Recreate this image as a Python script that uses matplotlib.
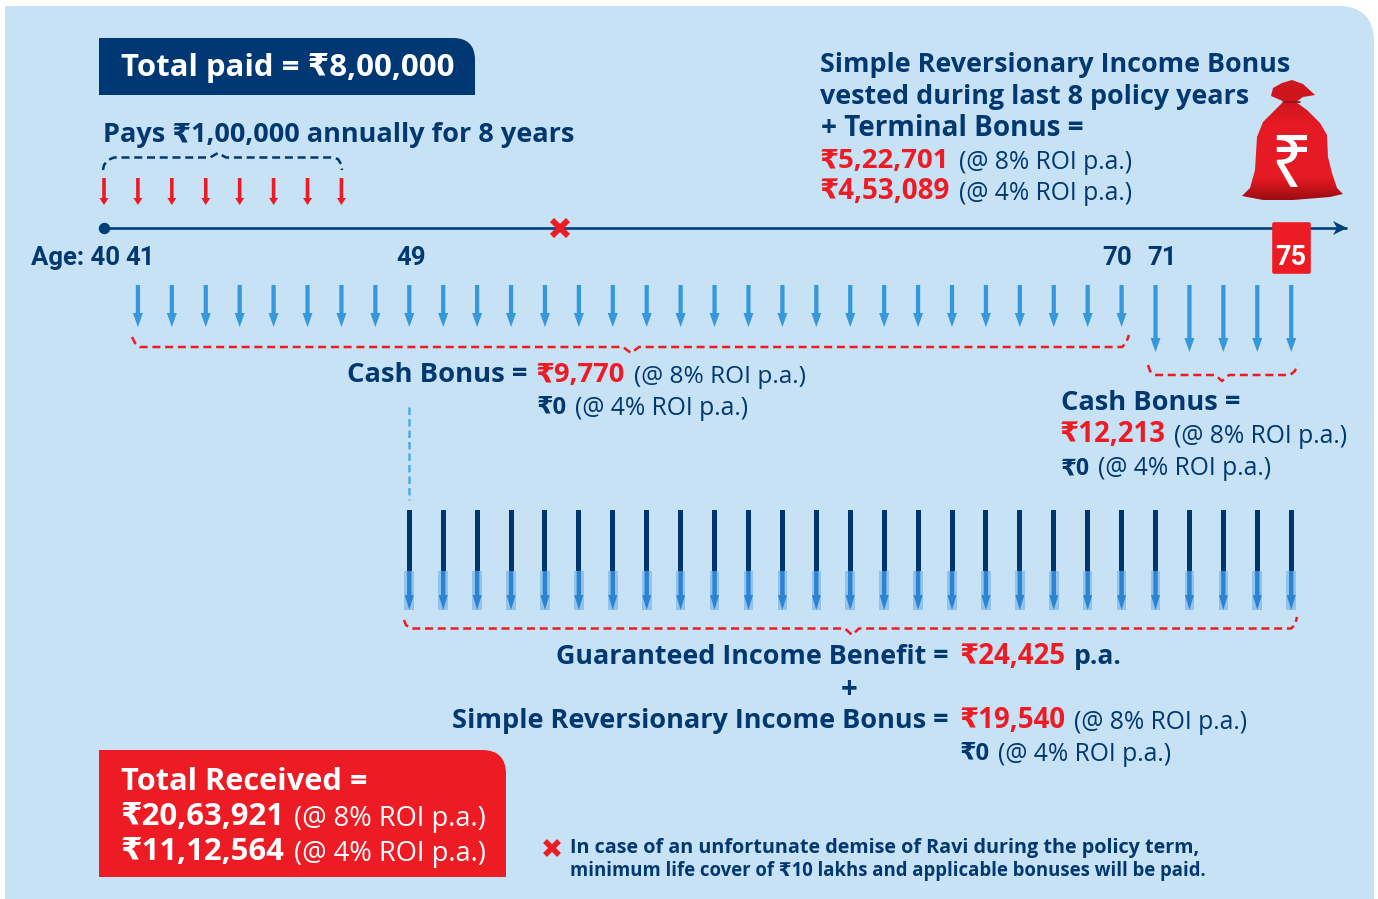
import matplotlib
matplotlib.use("Agg")
import matplotlib.pyplot as plt
import numpy as np
from matplotlib.patches import PathPatch
from matplotlib.path import Path

# ---------- data ----------
PREMIUM_AGES = [40, 41, 42, 43, 44, 45, 46, 47]
BONUS_AGES_A = [41, 42, 43, 44, 45, 46, 47, 48, 49, 50, 51, 52, 53, 54, 55,
                56, 57, 58, 59, 60, 61, 62, 63, 64, 65, 66, 67, 68, 69, 70]
BONUS_AGES_B = [71, 72, 73, 74, 75]
INCOME_AGES = [49, 50, 51, 52, 53, 54, 55, 56, 57, 58, 59, 60, 61, 62, 63, 64,
               65, 66, 67, 68, 69, 70, 71, 72, 73, 74, 75]
DEATH_AGE = 53.45
TIMELINE_START, TIMELINE_END = 40, 76.65
BADGE_AGE = 75

NAVY = "#00386F"
RED = "#ED1C24"
BLUE = "#3498DB"
BG = "#C7E1F5"
SANS = ["Open Sans", "DejaVu Sans"]
NARROW = ["Roboto", "Open Sans", "DejaVu Sans"]

W, H = 1378, 899
fig = plt.figure(figsize=(W / 100, H / 100), dpi=100, facecolor="white")
ax = fig.add_axes([0, 0, 1, 1])
ax.set_xlim(0, W)
ax.set_ylim(H, 0)
ax.axis("off")
# Age axis shares the picture: age 40 at px 104, one year = 33.92 px
PX_40, PX_YEAR = 104.0, 33.92
axa = fig.add_axes([0, 0, 1, 1])
axa.set_xlim(40 - PX_40 / PX_YEAR, 40 + (W - PX_40) / PX_YEAR)
axa.set_ylim(H, 0)
axa.axis("off")
axa.patch.set_alpha(0)
renderer = fig.canvas.get_renderer()


def round_box(x0, y0, x1, y1, r, color, a=ax, z=1):
    verts = [(x0, y0), (x1 - r, y0), (x1, y0), (x1, y0 + r), (x1, y1), (x0, y1), (x0, y0)]
    codes = [Path.MOVETO, Path.LINETO, Path.CURVE3, Path.CURVE3, Path.LINETO, Path.LINETO, Path.CLOSEPOLY]
    a.add_patch(PathPatch(Path(verts, codes), fc=color, ec="none", zorder=z))


def put(x0, x1, y, s, color=NAVY, weight="bold", family=SANS, a=ax, z=10):
    if weight == "bold":
        y = y - 0.8
    t = a.text(x0, y, s, color=color, fontweight=weight, family=family, fontsize=20,
               ha="left", va="baseline", zorder=z)
    w = t.get_window_extent(renderer).width
    t.set_fontsize(20 * (x1 - x0) / w)
    return t


def arrow(age, y0, y1, shaft, head_w, head_l, color, z=5):
    dx = shaft / 2 / PX_YEAR
    hx = head_w / 2 / PX_YEAR
    yn = y1 - head_l
    axa.fill([age - dx, age + dx, age + dx, age + hx, age, age - hx, age - dx],
             [y0, y0, yn, yn, y1, yn, yn], color=color, lw=0, zorder=z)


def dashed(xs, ys, color=RED, lw=1.8):
    ax.plot(xs, ys, color=color, lw=lw, linestyle=(0, (3.2, 1.9)),
            dash_capstyle="butt", zorder=3)


# ---------- background and boxes ----------
round_box(5, 6, 1374, 899, 36, BG, z=0)
round_box(99, 38, 475, 95, 22, "#003873")
round_box(99, 750, 506, 877, 24, RED)

# ---------- timeline ----------
axa.plot([TIMELINE_START, TIMELINE_END], [228, 228], color="#00407A", lw=1.9, zorder=4,
         solid_capstyle="butt")
axa.plot([TIMELINE_START], [228], "o", color="#00407A", ms=8.2, mew=0, zorder=5)
ax.fill([1333, 1347, 1333, 1337], [221, 228, 235, 228], color="#00407A", lw=0, zorder=5)
axa.plot([DEATH_AGE], [228], marker="x", color=RED, ms=11, mew=4.2, zorder=6)
ax.plot([552], [847.5], marker="x", color=RED, ms=10.5, mew=4.0, zorder=6)

# badge
hw = 17.5 / PX_YEAR
axa.fill([BADGE_AGE - hw, BADGE_AGE + hw, BADGE_AGE + hw, BADGE_AGE - hw],
         [223.5, 223.5, 272, 272], color=RED, lw=2.6, zorder=7, joinstyle="round")

# ---------- arrows ----------
for age in PREMIUM_AGES:
    arrow(age, 178, 205, 3.6, 9, 7, RED)
for age in BONUS_AGES_A:
    arrow(age, 285, 327, 4.2, 10, 14, BLUE)
for age in BONUS_AGES_B:
    arrow(age, 285, 352, 4.2, 10, 14, BLUE)
for age in INCOME_AGES:
    dx = 2.5 / PX_YEAR
    axa.fill([age - dx, age + dx, age + dx, age - dx], [510, 510, 572, 572],
             color="#00356F", lw=0, zorder=5)
    dx = 4.8 / PX_YEAR
    axa.fill([age - dx, age + dx, age + dx, age - dx], [571, 571, 610, 610],
             color="#93C2EC", lw=0, zorder=5)
    arrow(age, 571, 610, 4.4, 9, 15, "#2A84D2", z=6)

# ---------- brackets ----------
dashed([103, 104, 108, 114, 210, 218, 226, 331, 338, 341, 342],
       [170, 165, 160, 157.5, 157.5, 153, 157.5, 157.5, 159, 164, 170], color="#00386F")
dashed([132, 135, 140, 623, 631, 639, 1122, 1126, 1129],
       [337, 343, 347, 347, 353, 347, 347, 343, 335])
dashed([1148, 1150, 1155, 1215, 1222, 1229, 1290, 1295, 1297],
       [365, 371, 375, 375, 381, 375, 375, 371, 364])
dashed([404, 406, 411, 845, 852, 859, 1291, 1295, 1297],
       [620, 625, 628.5, 628.5, 635, 628.5, 628.5, 625, 617])
ax.plot([409, 409], [407, 500], color="#4AAEE5", lw=1.8, linestyle=(0, (3.0, 1.6)),
        dash_capstyle="butt", zorder=3)

# ---------- money bag ----------
bag = np.array([(692, 108), (700, 85), (725, 70), (755, 60), (790, 72), (825, 105), (790, 110),
                (768, 125), (800, 150), (840, 190), (862, 225), (865, 290), (875, 340),
                (890, 385), (910, 403), (870, 412), (760, 420), (670, 420), (607, 408),
                (630, 385), (645, 330), (650, 230), (670, 185), (725, 130), (735, 125), (692, 108)],
               dtype=float)
bag = np.c_[1040 + bag[:, 0] / 3, 60 + bag[:, 1] / 3]
patch = PathPatch(Path(bag), fc="none", ec="none", zorder=4)
ax.add_patch(patch)
stops_y = [80, 100, 125, 178, 190, 201]
stops_c = [(0.82, 0.09, 0.12), (0.80, 0.08, 0.11), (0.90, 0.10, 0.14), (0.90, 0.10, 0.14),
           (0.74, 0.07, 0.09), (0.58, 0.05, 0.07)]
edges = np.linspace(80, 202, 123)
mid = (edges[:-1] + edges[1:]) / 2
rgb = np.stack([np.interp(mid, stops_y, [c[k] for c in stops_c]) for k in range(3)], axis=1)[:, None, :]
mesh = ax.pcolormesh([1240, 1346], edges, rgb, zorder=4, shading="flat")
mesh.set_clip_path(patch)
ax.set_xlim(0, W)
ax.set_ylim(H, 0)
ax.plot([1283, 1300], [102, 102], color="#8E0F14", lw=1.2, zorder=5, solid_capstyle="round")
put(1270, 1312, 187, "₹", color="white", weight="normal", family=["Noto Sans", "DejaVu Sans"], z=6)

# ---------- texts ----------
put(121, 454, 77, "Total paid = ₹8,00,000", color="white")
put(103, 575, 143, "Pays ₹1,00,000 annually for 8 years")

for xpos, label in [(31, "Age: 40"), (125, "41"), (396, "49"), (1102, "70"), (1147, "71")]:
    ax.text(xpos, 265, label, color=NAVY, fontweight="bold", family=NARROW, fontsize=18.5,
            ha="left", va="baseline", zorder=10)
axa.text(BADGE_AGE, 265, "75", color="white", fontweight="bold", family=NARROW,
         fontsize=19.5, ha="center", va="baseline", zorder=9)

put(820, 1291, 73, "Simple Reversionary Income Bonus")
put(820, 1249, 105, "vested during last 8 policy years")
put(821, 1084, 137, "+ Terminal Bonus =")
put(820, 949, 169, "₹5,22,701", color=RED)
put(959, 1132, 169, "(@ 8% ROI p.a.)", weight="normal")
put(820, 950, 200, "₹4,53,089", color=RED)
put(959, 1132, 200, "(@ 4% ROI p.a.)", weight="normal")

put(347, 528, 383, "Cash Bonus =")
put(536, 625, 383, "₹9,770", color=RED)
put(634, 806, 383, "(@ 8% ROI p.a.)", weight="normal")
put(537, 567, 415, "₹0")
put(575, 748, 415, "(@ 4% ROI p.a.)", weight="normal")

put(1061, 1241, 411, "Cash Bonus =")
put(1060, 1166, 443, "₹12,213", color=RED)
put(1174, 1347, 443, "(@ 8% ROI p.a.)", weight="normal")
put(1061, 1090, 475, "₹0")
put(1098, 1271, 475, "(@ 4% ROI p.a.)", weight="normal")

put(556, 950, 665, "Guaranteed Income Benefit =")
put(960, 1066, 665, "₹24,425", color=RED)
put(1074, 1122, 665, "p.a.")
put(841, 858, 699, "+")
put(452, 950, 729, "Simple Reversionary Income Bonus =")
put(960, 1066, 729, "₹19,540", color=RED)
put(1074, 1247, 729, "(@ 8% ROI p.a.)", weight="normal")
put(960, 990, 761, "₹0")
put(998, 1171, 761, "(@ 4% ROI p.a.)", weight="normal")

put(121, 368, 791, "Total Received =", color="white")
put(120, 284, 826, "₹20,63,921", color="white")
put(294, 486, 826, "(@ 8% ROI p.a.)", color="white", weight="normal")
put(120, 284, 861, "₹11,12,564", color="white")
put(294, 486, 861, "(@ 4% ROI p.a.)", color="white", weight="normal")

put(570, 1199, 854, "In case of an unfortunate demise of Ravi during the policy term,")
put(570, 1204, 877, "minimum life cover of ₹10 lakhs and applicable bonuses will be paid.")

fig.savefig("out.png", dpi=100, facecolor="white")
